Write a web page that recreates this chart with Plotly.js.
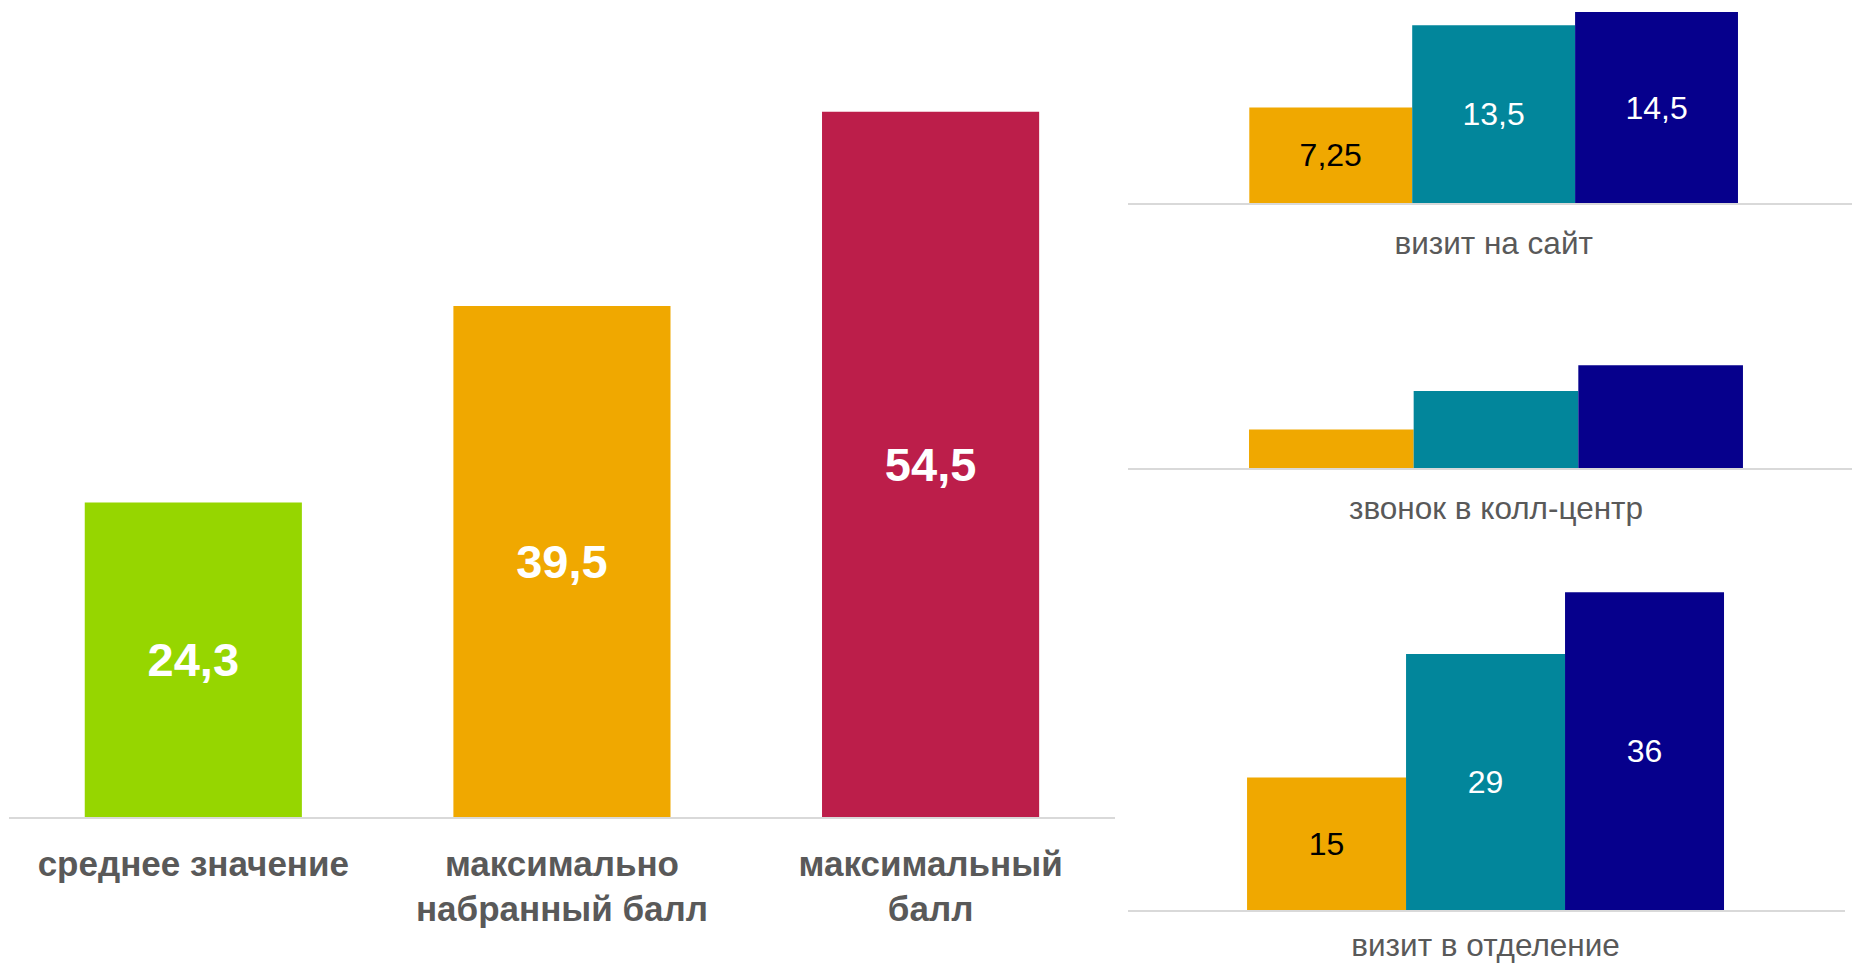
<!DOCTYPE html>
<html>
<head>
<meta charset="utf-8">
<script src="https://cdn.plot.ly/plotly-3.0.1.min.js"></script>
<style>html,body{margin:0;padding:0;background:#fff;}#chart{width:1852px;height:964px;}</style>
</head>
<body>
<div id="chart"></div>
<script>
// Main chart
const mainCategories = ['среднее значение', 'максимально набранный балл', 'максимальный балл'];
const mainTickLabels = ['среднее значение', 'максимально<br>набранный балл', 'максимальный<br>балл'];
const mainValues = [24.3, 39.5, 54.5];
const mainColors = ['#96D600', '#F0A800', '#BC1E4A'];

// Right panels
const channelCategories = ['визит на сайт', 'звонок в колл-центр', 'визит в отделение'];
const seriesA = [7.25, 3, 15];
const seriesB = [13.5, 6, 29];
const seriesC = [14.5, 8, 36];
const showLabels = [true, false, true];
const seriesColors = ['#F0A800', '#02869B', '#06008C'];
const seriesTextColors = ['#000000', '#FFFFFF', '#FFFFFF'];

const fmt = v => String(v).replace('.', ',');
const FONT = 'Liberation Sans, Arial, sans-serif';

const traces = [];
traces.push({
  type: 'bar',
  x: mainCategories,
  y: mainValues,
  width: 0.589,
  marker: {color: mainColors},
  text: mainValues.map(fmt),
  textposition: 'inside',
  insidetextanchor: 'middle',
  textangle: 0,
  constraintext: 'none',
  insidetextfont: {family: FONT, size: 47, color: '#FFFFFF', weight: 700},
  hoverinfo: 'none',
  xaxis: 'x', yaxis: 'y'
});

const series = [seriesA, seriesB, seriesC];
channelCategories.forEach((cat, p) => {
  series.forEach((s, k) => {
    traces.push({
      type: 'bar',
      x: [cat],
      y: [s[p]],
      marker: {color: seriesColors[k]},
      text: showLabels[p] ? [fmt(s[p])] : [''],
      textposition: 'inside',
      insidetextanchor: 'middle',
      textangle: 0,
      constraintext: 'none',
      insidetextfont: {family: FONT, size: 32, color: seriesTextColors[k]},
      hoverinfo: 'none',
      xaxis: 'x' + (p + 2), yaxis: 'y' + (p + 2)
    });
  });
});

const hiddenY = {showgrid: false, zeroline: false, showticklabels: false, showline: false, fixedrange: true};
const baseX = {showgrid: false, zeroline: false, showline: true, linecolor: '#D9D9D9', linewidth: 2, ticks: '', type: 'category', fixedrange: true};
const rightTickFont = {family: FONT, size: 31.5, color: '#595959'};

const layout = {
  width: 1852, height: 964,
  margin: {l: 0, r: 0, t: 0, b: 0},
  paper_bgcolor: '#FFFFFF', plot_bgcolor: 'rgba(0,0,0,0)',
  showlegend: false,
  barmode: 'group', bargap: 0.325, bargroupgap: 0,
  xaxis: Object.assign({}, baseX, {
    domain: [0.00486, 0.602], range: [-0.5, 2.5],
    tickvals: mainCategories, ticktext: mainTickLabels,
    ticklabelstandoff: 15,
    tickfont: {family: FONT, size: 35, color: '#595959', weight: 700}
  }),
  yaxis: Object.assign({}, hiddenY, {domain: [0.15249, 1], range: [0, 63.14]}),
  xaxis2: Object.assign({}, baseX, {
    domain: [0.6091, 1], range: [-0.505, 0.495], anchor: 'y2',
    ticklabelstandoff: 11, tickfont: rightTickFont
  }),
  yaxis2: Object.assign({}, hiddenY, {domain: [0.7894, 1], range: [0, 15.41], anchor: 'x2'}),
  xaxis3: Object.assign({}, baseX, {
    domain: [0.6091, 1], range: [-0.5028, 0.4865], anchor: 'y3',
    ticklabelstandoff: 11, tickfont: rightTickFont
  }),
  yaxis3: Object.assign({}, hiddenY, {domain: [0.5145, 0.7407], range: [0, 16.965], anchor: 'x3'}),
  xaxis4: Object.assign({}, baseX, {
    domain: [0.6091, 0.99622], range: [-0.5059, 0.5087], anchor: 'y4',
    ticklabelstandoff: 6, tickfont: rightTickFont
  }),
  yaxis4: Object.assign({}, hiddenY, {domain: [0.05602, 0.4813], range: [0, 46.43], anchor: 'x4'})
};

Plotly.newPlot('chart', traces, layout, {displayModeBar: false, staticPlot: true});
</script>
</body>
</html>
